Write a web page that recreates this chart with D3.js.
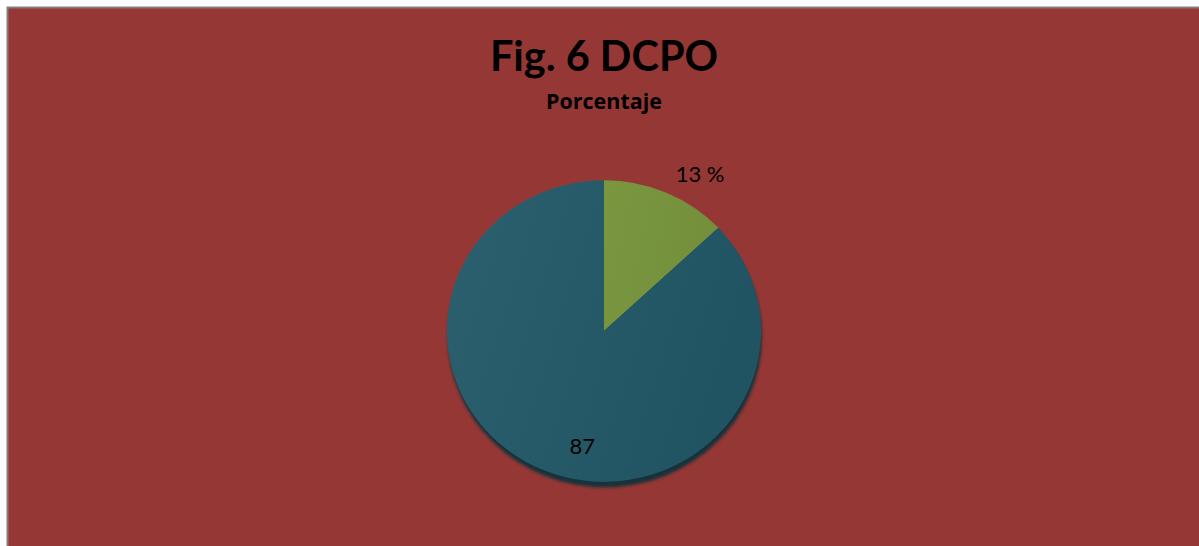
<!DOCTYPE html>
<html>
<head>
<meta charset="utf-8">
<script src="https://d3js.org/d3.v7.min.js"></script>
<style>
  html, body { margin: 0; padding: 0; background: #fff; }
  svg { display: block; }
</style>
</head>
<body>
<svg width="1199" height="546"></svg>
<script>
// chart data
const categories = ["A", "B"];
const values = [13, 87];
const labels = ["13 %", "87"];
const colors = ["#77933c", "#265a68"];

const svg = d3.select("svg");
const W = 1199, H = 546;

// chart frame
svg.append("rect").attr("x", 7.5).attr("y", 7.5).attr("width", W).attr("height", H)
  .attr("fill", "#953735").attr("stroke", "#808080").attr("stroke-width", 2);

// titles
svg.append("text").attr("x", 604).attr("y", 71).attr("text-anchor", "middle")
  .attr("font-family", "Lato, 'Open Sans', sans-serif").attr("font-weight", "bold")
  .attr("font-size", 41.5).attr("fill", "#000").text("Fig. 6 DCPO");
svg.append("text").attr("x", 604).attr("y", 109).attr("text-anchor", "middle")
  .attr("font-family", "'Open Sans', Lato, sans-serif").attr("font-weight", "bold")
  .attr("font-size", 21.5).attr("fill", "#000").text("Porcentaje");

const cx = 604, cy = 331, r = 157, sy = 0.96;

const defs = svg.append("defs");
const grad = defs.append("linearGradient").attr("id", "blueGrad")
  .attr("x1", "0").attr("y1", "0").attr("x2", "1").attr("y2", "0.3");
grad.append("stop").attr("offset", "0").attr("stop-color", "#2d606e");
grad.append("stop").attr("offset", "1").attr("stop-color", "#215462");
const ggrad = defs.append("linearGradient").attr("id", "greenGrad")
  .attr("x1", "0").attr("y1", "0").attr("x2", "1").attr("y2", "0.3");
ggrad.append("stop").attr("offset", "0").attr("stop-color", "#7a9740");
ggrad.append("stop").attr("offset", "1").attr("stop-color", "#738f3a");
const blur = defs.append("filter").attr("id", "shadowBlur");
blur.append("feGaussianBlur").attr("stdDeviation", 1.5);

const g = svg.append("g").attr("transform", `translate(${cx},${cy}) scale(1,${sy})`);

// shadow under the pie
g.append("circle").attr("cx", 1).attr("cy", 6).attr("r", r)
  .attr("fill", "#14323a").attr("filter", "url(#shadowBlur)");

const pie = d3.pie().sort(null).value(d => d);
const arcs = pie(values);
const arc = d3.arc().innerRadius(0).outerRadius(r);

g.selectAll("path.slice").data(arcs).enter().append("path")
  .attr("class", "slice")
  .attr("d", arc)
  .attr("fill", (d, i) => i === 0 ? "url(#greenGrad)" : "url(#blueGrad)");

// data labels (Excel best-fit positions)
const labelPos = [{ angle: 0.53, radius: 190 }, { angle: 3.32, radius: 122 }];
svg.selectAll("text.lbl").data(arcs).enter().append("text")
  .attr("class", "lbl")
  .attr("x", (d, i) => cx + labelPos[i].radius * Math.sin(labelPos[i].angle))
  .attr("y", (d, i) => cy - labelPos[i].radius * Math.cos(labelPos[i].angle) * sy + 8)
  .attr("text-anchor", "middle")
  .attr("font-family", "Lato, 'Open Sans', sans-serif")
  .attr("font-size", 22).attr("fill", "#000")
  .text((d, i) => labels[i]);
</script>
</body>
</html>
